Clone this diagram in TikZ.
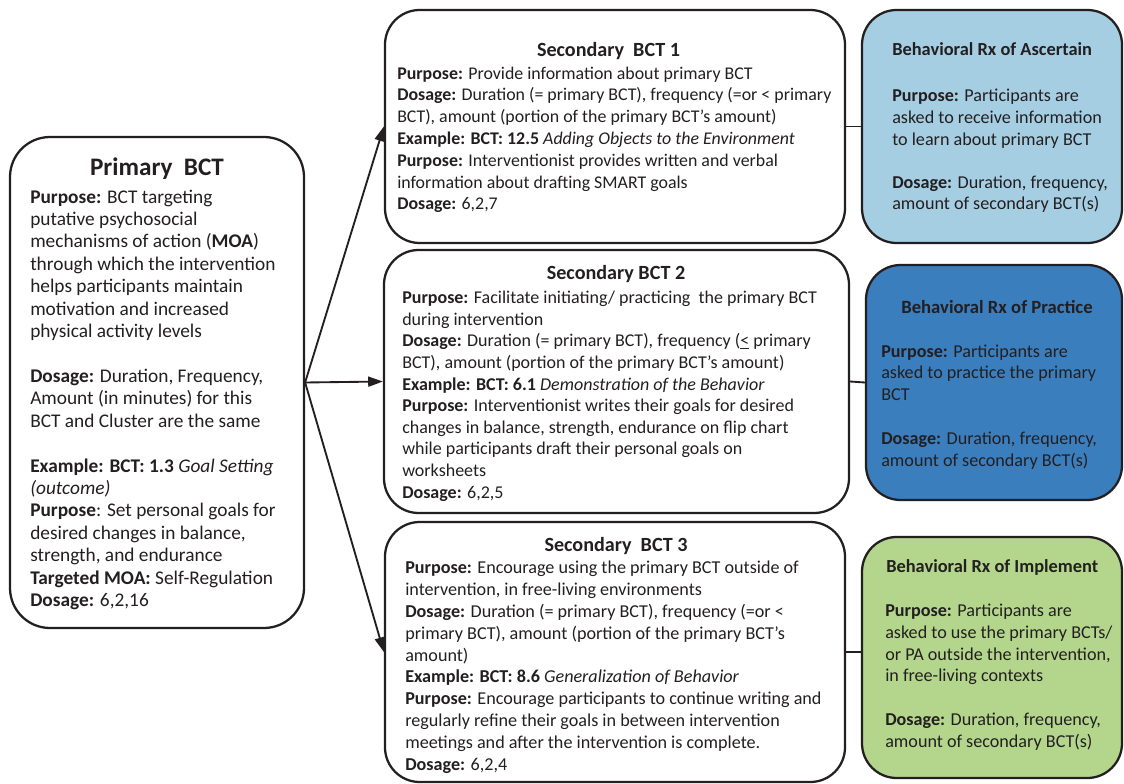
\documentclass[tikz,border=0pt]{standalone}
\usepackage{fontspec}
\setmainfont{Carlito}
\usetikzlibrary{arrows.meta}
\definecolor{ink}{HTML}{231F20}
\definecolor{rxA}{HTML}{A6CEE3}
\definecolor{rxP}{HTML}{3A7EBE}
\definecolor{rxI}{HTML}{B3D68C}
\tikzset{
  box/.style={draw=ink, line width=1.7pt, rounded corners=26pt, inner sep=0pt},
  rxbox/.style={box, line width=1.7pt},
  body/.style={anchor=base west, align=left, inner sep=0pt, text=ink},
  ttl/.style={anchor=base, inner sep=0pt, text=ink, font=\fontsize{15.1}{18}\selectfont\bfseries},
  conn/.style={draw=ink, line width=1.4pt},
  arr/.style={conn, -{Triangle[length=11pt,width=7.5pt]}},
}
\begin{document}
\begin{tikzpicture}[x=0.75pt,y=-0.75pt]
\useasboundingbox (0,0) rectangle (1124,784);
% boxes
\node[box, minimum width=220.5pt, minimum height=368.25pt, rounded corners=30pt] (prim) at (157,382.5) {};
\node[box, minimum width=345pt, minimum height=174.75pt] (s1) at (615,126.5) {};
\node[box, minimum width=348.75pt, minimum height=197.25pt] (s2) at (616.5,381.5) {};
\node[box, minimum width=345pt, minimum height=195pt] (s3) at (615,652) {};
\node[rxbox, fill=rxA, minimum width=195pt, minimum height=174.75pt] (r1) at (992,126.5) {};
\node[rxbox, fill=rxP, minimum width=192pt, minimum height=176.25pt] (r2) at (994,382.5) {};
\node[rxbox, fill=rxI, minimum width=195pt, minimum height=180.75pt] (r3) at (992,657.5) {};
% connectors
\draw[arr] (prim.east) -- (s1.west);
\draw[arr] (prim.east) -- (s2.west);
\draw[arr] (prim.east) -- (s3.west);
\draw[conn] (s1.east) -- (r1.west);
\draw[conn] (s2.east) -- (r2.west);
\draw[conn] (s3.east) -- (s3.east -| r3.west);
% primary
\node[ttl, font=\fontsize{18.9}{22}\selectfont\bfseries] (primt) at (157,176) {Primary\ \ BCT};
\node[body, font=\fontsize{14.5}{16.82}\selectfont] (primb) at (30,606.7) {\textbf{Purpose:} BCT targeting\\
putative psychosocial\\
mechanisms of action (\textbf{MOA})\\
through which the intervention\\
helps participants maintain\\
motivation and increased\\
physical activity levels\\[16.82pt]
\textbf{Dosage:} Duration, Frequency,\\
Amount (in minutes) for this\\
BCT and Cluster are the same\\[16.82pt]
\textbf{Example: BCT: 1.3} \textit{Goal Setting}\\
\textit{(outcome)}\\
\textbf{Purpose}: Set personal goals for\\
desired changes in balance,\\
strength, and endurance\\
\textbf{Targeted MOA:} Self-Regulation\\
\textbf{Dosage:} 6,2,16};
% secondary 1
\node[ttl] (s1t) at (608.5,57) {Secondary\ \ BCT 1};
\node[body, font=\fontsize{13.4}{16.37}\selectfont] (s1b) at (397,210) {\textbf{Purpose:} Provide information about primary BCT\\
\textbf{Dosage:} Duration (= primary BCT), frequency (=or < primary\\
BCT), amount (portion of the primary BCT’s amount)\\
\textbf{Example: BCT: 12.5} \textit{Adding Objects to the Environment}\\
\textbf{Purpose:} Interventionist provides written and verbal\\
information about drafting SMART goals\\
\textbf{Dosage:} 6,2,7};
% secondary 2
\node[ttl] (s2t) at (616,280) {Secondary BCT 2};
\node[body, font=\fontsize{13.5}{16.2}\selectfont] (s2b) at (402,498) {\textbf{Purpose:} Facilitate initiating/ practicing\ \ the primary BCT\\
during intervention\\
\textbf{Dosage:} Duration (= primary BCT), frequency (\underline{<} primary\\
BCT), amount (portion of the primary BCT’s amount)\\
\textbf{Example: BCT: 6.1} \textit{Demonstration of the Behavior}\\
\textbf{Purpose:} Interventionist writes their goals for desired\\
changes in balance, strength, endurance on flip chart\\
while participants draft their personal goals on\\
worksheets\\
\textbf{Dosage:} 6,2,5};
% secondary 3
\node[ttl] (s3t) at (616,551) {Secondary\ \ BCT 3};
\node[body, font=\fontsize{13.6}{16.35}\selectfont] (s3b) at (405,770) {\textbf{Purpose:} Encourage using the primary BCT outside of\\
intervention, in free-living environments\\
\textbf{Dosage:} Duration (= primary BCT), frequency (=or <\\
primary BCT), amount (portion of the primary BCT’s\\
amount)\\
\textbf{Example: BCT: 8.6} \textit{Generalization of Behavior}\\
\textbf{Purpose:} Encourage participants to continue writing and\\
regularly refine their goals in between intervention\\
meetings and after the intervention is complete.\\
\textbf{Dosage:} 6,2,4};
% Rx 1
\node[body, font=\fontsize{13.8}{16}\selectfont\bfseries] (r1t) at (892,56) {Behavioral Rx of Ascertain};
\node[body, font=\fontsize{13.6}{16.2}\selectfont] (r1b) at (892,210) {\textbf{Purpose:} Participants are\\
asked to receive information\\
to learn about primary BCT\\[16.2pt]
\textbf{Dosage:} Duration, frequency,\\
amount of secondary BCT(s)};
% Rx 2
\node[ttl, font=\fontsize{14}{16}\selectfont\bfseries] (r2t) at (997,313) {Behavioral Rx of Practice};
\node[body, font=\fontsize{13.6}{16.35}\selectfont] (r2b) at (881,466) {\textbf{Purpose:} Participants are\\
asked to practice the primary\\
BCT\\[16.35pt]
\textbf{Dosage:} Duration, frequency,\\
amount of secondary BCT(s)};
% Rx 3
\node[body, font=\fontsize{13.8}{16}\selectfont\bfseries] (r3t) at (886,572) {Behavioral Rx of Implement};
\node[body, font=\fontsize{13.6}{16.3}\selectfont] (r3b) at (885,747) {\textbf{Purpose:} Participants are\\
asked to use the primary BCTs/\\
or PA outside the intervention,\\
in free-living contexts\\[16.3pt]
\textbf{Dosage:} Duration, frequency,\\
amount of secondary BCT(s)};
\end{tikzpicture}
\end{document}
